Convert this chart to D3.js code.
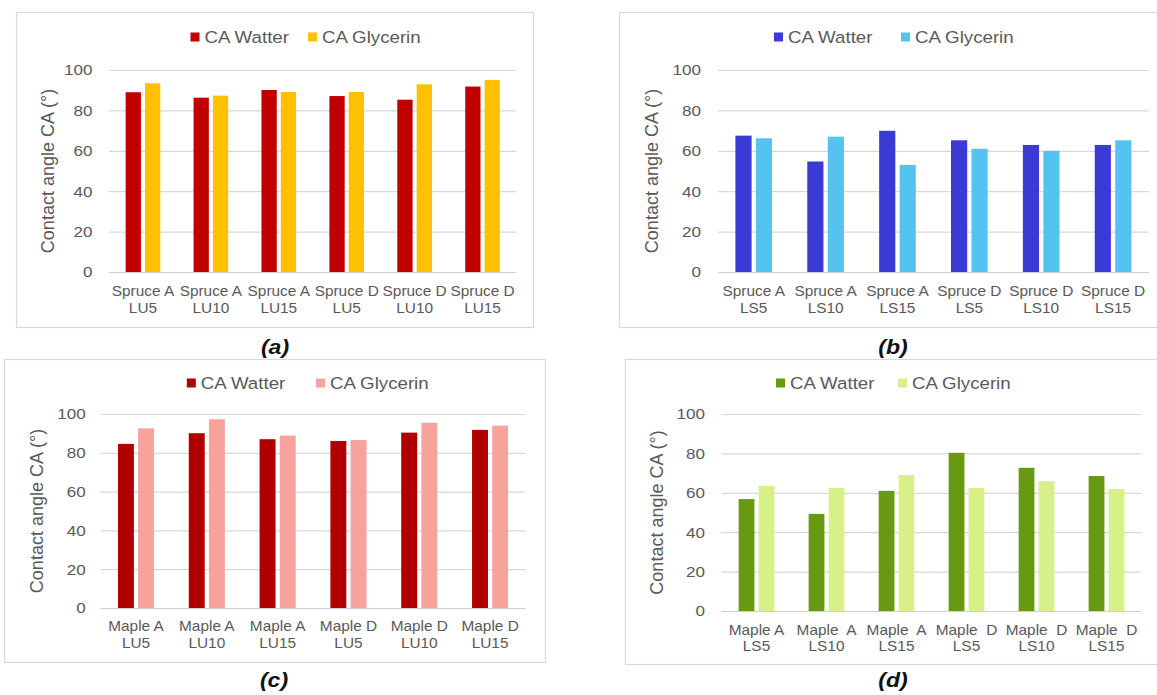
<!DOCTYPE html>
<html>
<head>
<meta charset="utf-8">
<script src="https://cdn.jsdelivr.net/npm/d3@7"></script>
<style>
  html, body { margin: 0; padding: 0; background: #ffffff; }
  svg { display: block; font-family: "Liberation Sans", Arial, sans-serif; }
  text { white-space: pre; }
</style>
</head>
<body>
<svg id="fig" width="1157" height="695"></svg>
<script>
// ---- data ----
const seriesNames = ["CA Watter", "CA Glycerin"];
const yTicks = [0, 20, 40, 60, 80, 100];

const catsA = [["Spruce A", "LU5"], ["Spruce A", "LU10"], ["Spruce A", "LU15"],
               ["Spruce D", "LU5"], ["Spruce D", "LU10"], ["Spruce D", "LU15"]];
const waterA = [89.0, 86.3, 90.1, 87.1, 85.3, 91.8];
const glyA   = [93.4, 87.3, 89.1, 89.1, 92.9, 95.1];

const catsB = [["Spruce A", "LS5"], ["Spruce A", "LS10"], ["Spruce A", "LS15"],
               ["Spruce D", "LS5"], ["Spruce D", "LS10"], ["Spruce D", "LS15"]];
const waterB = [67.5, 54.7, 69.9, 65.2, 62.9, 62.9];
const glyB   = [66.2, 67.0, 53.0, 61.0, 60.0, 65.2];

const catsC = [["Maple A", "LU5"], ["Maple A", "LU10"], ["Maple A", "LU15"],
               ["Maple D", "LU5"], ["Maple D", "LU10"], ["Maple D", "LU15"]];
const waterC = [84.6, 90.1, 87.0, 86.1, 90.4, 91.8];
const glyC   = [92.6, 97.3, 88.9, 86.6, 95.5, 94.0];

const catsD = [["Maple A", "LS5"], ["Maple  A", "LS10"], ["Maple  A", "LS15"],
               ["Maple  D", "LS5"], ["Maple  D", "LS10"], ["Maple  D", "LS15"]];
const waterD = [56.8, 49.3, 61.0, 80.3, 72.7, 68.5];
const glyD   = [63.6, 62.5, 69.0, 62.5, 65.9, 61.9];

// ---- layout of the four panels ----
const SX = 1.1;            // horizontal stretch applied to text
const TEXT = "#595959";
const GRID = "#d9d9d9";

const panels = [
  { cats: catsA, water: waterA, gly: glyA, colors: ["#C00000", "#FFC000"], caption: "(a)",
    box: [16, 12, 533, 327], plotX: [109, 516.5], yRange: [272, 70], legY: 37, legSq: [190.5, 308],
    tickRight: 92.5, titleX: 48, labY: [291, 308], cap: [275, 347] },
  { cats: catsB, water: waterB, gly: glyB, colors: ["#3A3AD4", "#55C3EF"], caption: "(b)",
    box: [619, 12, 1170, 327], plotX: [717.8, 1149], yRange: [272, 70], legY: 37, legSq: [774, 901],
    tickRight: 701, titleX: 652, labY: [291, 308], cap: [893, 347] },
  { cats: catsC, water: waterC, gly: glyC, colors: ["#B00000", "#F6A39E"], caption: "(c)",
    box: [4, 359, 545, 662], plotX: [100.6, 525.5], yRange: [608, 414], legY: 383, legSq: [186.8, 316],
    tickRight: 85.8, titleX: 37, labY: [626, 643], cap: [274, 680] },
  { cats: catsD, water: waterD, gly: glyD, colors: ["#679A10", "#D8F08A"], caption: "(d)",
    box: [625, 359, 1170, 664], plotX: [721.5, 1141.5], yRange: [611, 414], legY: 383, legSq: [776, 898],
    tickRight: 705, titleX: 657, labY: [630, 646], cap: [893, 680] }
];

const svg = d3.select("#fig");

// horizontal text stretch: scale about local origin, compensate x
function stretch(sel) {
  sel.each(function () {
    const t = d3.select(this);
    const x = +t.attr("x") || 0;
    t.attr("x", x / SX).attr("transform", `scale(${SX},1)`);
    t.selectAll("tspan").each(function () {
      const ts = d3.select(this);
      if (ts.attr("x") !== null) ts.attr("x", +ts.attr("x") / SX);
    });
  });
}

panels.forEach(p => {
  const g = svg.append("g");
  const [bx0, by0, bx1, by1] = p.box;

  g.append("rect")
    .attr("x", bx0 + 0.5).attr("y", by0 + 0.5)
    .attr("width", bx1 - bx0).attr("height", by1 - by0)
    .attr("fill", "#ffffff").attr("stroke", "#d9d9d9").attr("stroke-width", 1.2);

  const labels = p.cats.map(c => c.join(" "));
  const x0 = d3.scaleBand().domain(labels).range(p.plotX)
    .paddingInner(0.49).paddingOuter(0.245);
  const x1 = d3.scaleBand().domain(seriesNames).range([0, x0.bandwidth()]).paddingInner(0.21);
  const y = d3.scaleLinear().domain([0, 100]).range(p.yRange);

  // gridlines + y tick labels
  const yAxis = g.append("g")
    .attr("transform", `translate(${p.plotX[0]},0)`)
    .call(d3.axisLeft(y).tickValues(yTicks).tickSize(-(p.plotX[1] - p.plotX[0]))
      .tickPadding(p.plotX[0] - p.tickRight));
  yAxis.select(".domain").remove();
  yAxis.selectAll(".tick line").attr("stroke", d => d === 0 ? "#cfcfcf" : GRID).attr("stroke-width", 1.2);
  yAxis.selectAll(".tick text").attr("fill", TEXT).attr("font-size", 15.5)
    .attr("font-family", "Liberation Sans, Arial, sans-serif");
  stretch(yAxis.selectAll(".tick text"));

  // bars
  const rows = labels.map((l, i) => ({ label: l, vals: [p.water[i], p.gly[i]] }));
  const grp = g.append("g").selectAll("g").data(rows).join("g")
    .attr("transform", d => `translate(${x0(d.label)},0)`);
  grp.selectAll("rect")
    .data(d => d.vals.map((v, k) => ({ key: seriesNames[k], v, k })))
    .join("rect")
    .attr("x", d => x1(d.key))
    .attr("y", d => y(d.v))
    .attr("width", x1.bandwidth())
    .attr("height", d => y(0) - y(d.v))
    .attr("fill", d => p.colors[d.k]);

  // category labels (two lines)
  const xAxis = g.append("g")
    .attr("transform", `translate(0,${p.yRange[0]})`)
    .call(d3.axisBottom(x0).tickSize(0).tickFormat(""));
  xAxis.select(".domain").remove();
  xAxis.selectAll(".tick text").remove();
  xAxis.selectAll(".tick").each(function (d, i) {
    const t = d3.select(this).append("text")
      .attr("fill", TEXT).attr("font-size", 14).attr("text-anchor", "middle");
    p.cats[i].forEach((line, j) => {
      t.append("tspan").attr("x", 0)
        .attr("y", p.labY[j] - p.yRange[0]).attr("dy", "0.35em").text(line);
    });
  });
  stretch(xAxis.selectAll(".tick text"));

  // y axis title
  const ym = (p.yRange[0] + p.yRange[1]) / 2;
  g.append("text")
    .attr("transform", `translate(${p.titleX},${ym}) rotate(-90)`)
    .attr("text-anchor", "middle").attr("dy", "0.35em")
    .attr("fill", TEXT).attr("font-size", 18)
    .text("Contact angle CA (°)");

  // legend
  seriesNames.forEach((name, k) => {
    const sx = p.legSq[k];
    g.append("rect").attr("x", sx).attr("y", p.legY - 4.5)
      .attr("width", 9).attr("height", 9).attr("fill", p.colors[k]);
    const t = g.append("text").attr("x", sx + 14).attr("y", p.legY).attr("dy", "0.35em")
      .attr("fill", TEXT).attr("font-size", 17).text(name);
    stretch(t);
  });

  // caption
  const c = svg.append("text").attr("x", p.cap[0]).attr("y", p.cap[1]).attr("dy", "0.35em")
    .attr("text-anchor", "middle").attr("font-size", 21)
    .attr("font-weight", "bold").attr("font-style", "italic").attr("fill", "#111111")
    .text(p.caption);
  stretch(c);
});
</script>
</body>
</html>
